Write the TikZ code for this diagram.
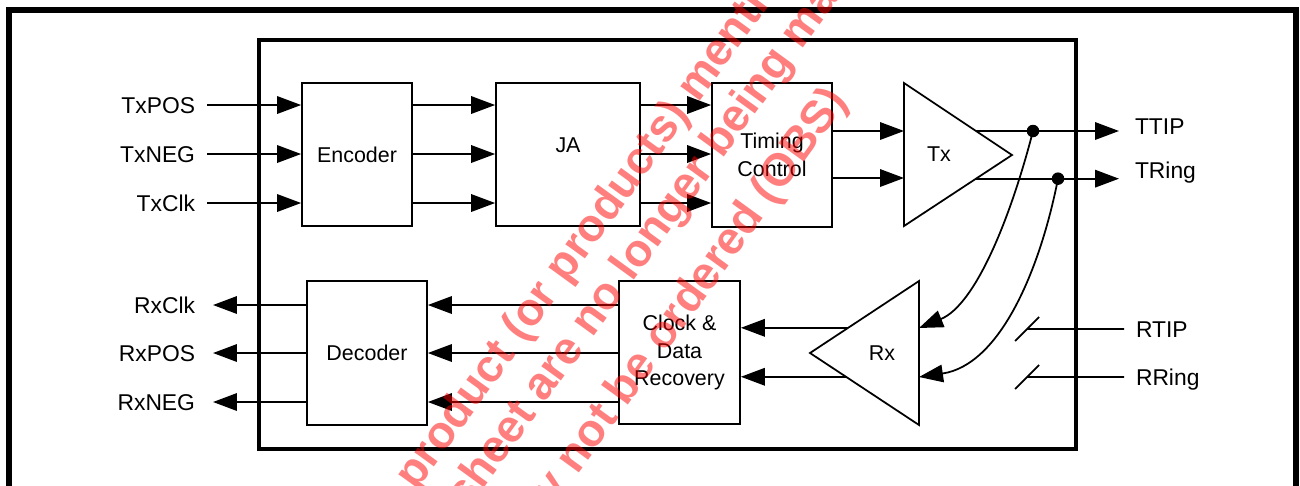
\documentclass[tikz,border=0pt]{standalone}
\usepackage{fontspec}
\setmainfont{Liberation Sans}
\usetikzlibrary{arrows.meta,calc}

\begin{document}
\begin{tikzpicture}[
    x=0.02cm, y=-0.02cm,
    block/.style={draw, line width=1pt, minimum width=2.4cm,
                  minimum height=2.88cm, align=center},
    pinlbl/.style={inner sep=0pt, inner xsep=0.24cm, outer sep=0pt,
                   text height=9.4pt, text depth=0pt,
                   font=\fontsize{13}{15}\selectfont},
    arrow/.style={-{Triangle[length=0.48cm, width=0.35cm]}, line width=1pt},
    wire/.style={line width=1pt},
    dot/.style={circle, fill, inner sep=0pt, minimum size=0.25cm},
    stamp/.style={rotate=54, anchor=base west, inner sep=0pt,
                  text=red, text opacity=0.5,
                  font=\fontsize{26}{26}\selectfont\bfseries},
    every node/.style={font=\fontsize{12.2}{15.6}\selectfont}
  ]
  \useasboundingbox (0,0) rectangle (1300,485);
  \clip (0,0) rectangle (1300,485);

  % Frames
  \draw[line width=3.4pt] (9,540) |- (1296,10) -- (1296,540);
  \draw[line width=2.3pt] (259,40) rectangle (1076,449);

  % Blocks
  \node[block, minimum width=2.2cm, minimum height=2.86cm] (enc) at (357,154.5) {Encoder};
  \node[block, minimum width=2.88cm, minimum height=2.86cm,
        label={[yshift=0.19cm, font=\fontsize{12.2}{15.6}\selectfont]center:JA}]
        (ja) at (568,154.5) {};
  \node[block] (tim) at (772,155) {Timing\\Control};
  \node[block, minimum width=2.42cm, minimum height=2.86cm] (cdr) at (679.5,352.5)
        {Clock \&\\Data\\Recovery};
  \node[block] (dec) at (367,353) {Decoder};

  % Tx and Rx amplifiers
  \draw[wire] (904,83) coordinate (txtop) -- (1012,155) coordinate (txtip)
              -- (904,226) coordinate (txbot) -- cycle;
  \node (tx) at (939,154) {Tx};
  \draw[wire] (919,281) coordinate (rxtop) -- (810,353) coordinate (rxtip)
              -- (919,425) coordinate (rxbot) -- cycle;
  \node (rx) at (882,353) {Rx};

  % Pins
  \node[pinlbl, anchor=east] (txpos) at (207,105) {TxPOS};
  \node[pinlbl, anchor=east] (txneg) at (207,154) {TxNEG};
  \node[pinlbl, anchor=east] (txclk) at (207,203) {TxClk};
  \node[pinlbl, anchor=east, inner xsep=0.36cm] (rxclk) at (213,305) {RxClk};
  \node[pinlbl, anchor=east, inner xsep=0.36cm] (rxpos) at (213,353) {RxPOS};
  \node[pinlbl, anchor=east, inner xsep=0.36cm] (rxneg) at (213,402) {RxNEG};
  \node[pinlbl, anchor=west, inner xsep=0.32cm] (ttip)  at (1119,126) {TTIP};
  \node[pinlbl, anchor=west, inner xsep=0.32cm] (tring) at (1119,170) {TRing};
  \node[pinlbl, anchor=west] (rtip)  at (1124,329) {RTIP};
  \node[pinlbl, anchor=west] (rring) at (1124,377) {RRing};

  % Transmit path
  \draw[arrow] (txpos) -- (enc.west |- txpos);
  \draw[arrow] (txneg) -- (enc.west |- txneg);
  \draw[arrow] (txclk) -- (enc.west |- txclk);
  \draw[arrow] (enc.east |- txpos) -- (ja.west |- txpos);
  \draw[arrow] (enc.east |- txneg) -- (ja.west |- txneg);
  \draw[arrow] (enc.east |- txclk) -- (ja.west |- txclk);
  \draw[arrow] (ja.east |- txpos) -- (tim.west |- txpos);
  \draw[arrow] (ja.east |- txneg) -- (tim.west |- txneg);
  \draw[arrow] (ja.east |- txclk) -- (tim.west |- txclk);

  \coordinate (txi1) at (904,131);
  \coordinate (txi2) at (904,178);
  \draw[arrow] (tim.east |- txi1) -- (txi1);
  \draw[arrow] (tim.east |- txi2) -- (txi2);

  \coordinate (txo1) at ($(txtop)!2/3!(txtip)$);
  \coordinate (txo2) at ($(txbot)!2/3!(txtip)$);
  \draw[arrow] (txo1) -- (txo1 -| ttip.west);
  \draw[arrow] (txo2) -- (txo2 -| tring.west);
  \node[dot] (j1) at (txo1 -| 1033,0) {};
  \node[dot] (j2) at (txo2 -| 1058,0) {};

  % Loopback to Rx
  \coordinate (rxi1) at (919,328);
  \coordinate (rxi2) at (919,377);
  \draw[arrow] (j1.center) .. controls (1010,220) and (975,305) .. (rxi1);
  \draw[arrow] (j2.center) .. controls (1040,270) and (1000,365) .. (rxi2);

  % Receive path
  \coordinate (sw1) at (1027,329);
  \coordinate (sw2) at (1027,377);
  \draw[wire] (rtip) -- (sw1) ($(sw1)+(-12,12)$) -- ($(sw1)+(12,-12)$);
  \draw[wire] (rring) -- (sw2) ($(sw2)+(-12,12)$) -- ($(sw2)+(12,-12)$);

  \coordinate (rxo1) at ($(rxtip)!0.35!(rxtop)$);
  \coordinate (rxo2) at ($(rxtip)!0.33!(rxbot)$);
  \draw[arrow] (rxo1) -- (rxo1 -| cdr.east);
  \draw[arrow] (rxo2) -- (rxo2 -| cdr.east);

  \draw[arrow] (cdr.west |- rxclk) -- (dec.east |- rxclk);
  \draw[arrow] (cdr.west |- rxpos) -- (dec.east |- rxpos);
  \draw[arrow] (cdr.west |- rxneg) -- (dec.east |- rxneg);
  \draw[arrow] (dec.west |- rxclk) -- (rxclk);
  \draw[arrow] (dec.west |- rxpos) -- (rxpos);
  \draw[arrow] (dec.west |- rxneg) -- (rxneg);

  % Stamp
  \node[stamp] (wm1) at (416,492) {product (or products) mentioned};
  \node[stamp] (wm2) at (467,511) {sheet are no longer being manufactured};
  \node[stamp, anchor=base east] (wm3) at (849,101) {may not be ordered (OBS)};
\end{tikzpicture}
\end{document}
